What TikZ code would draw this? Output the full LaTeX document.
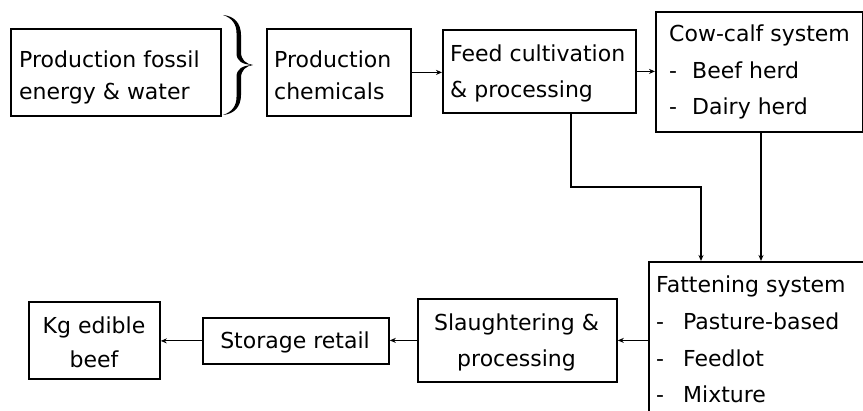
\documentclass[tikz,border=0pt]{standalone}
\usepackage{fontspec}
\setmainfont{DejaVu Sans}
\usetikzlibrary{arrows.meta}
\tikzset{
  box/.style={draw, line width=1.8pt, inner sep=0pt, anchor=north west},
  txt/.style={inner sep=0pt, anchor=base west, align=left},
  ctxt/.style={inner sep=0pt, anchor=base, align=center},
  conn/.style={line width=1.2pt, -{Stealth[length=6pt,width=5pt]}},
}
\newcommand{\itm}[2]{\makebox[#1][l]{-}#2}
\begin{document}
\begin{tikzpicture}[x=1pt,y=-1pt]
\useasboundingbox (0,0) rectangle (863,411);
% boxes
\node[box, minimum width=210pt, minimum height=87pt] (b1) at (10,28) {};
\node[box, minimum width=144pt, minimum height=87pt] (b2) at (266,28) {};
\node[box, minimum width=193pt, minimum height=83pt] (b3) at (442,29) {};
\node[box, minimum width=207pt, minimum height=120pt] (b4) at (655,11) {};
\begin{scope}
  \clip (0,0) rectangle (863,411);
  \node[box, minimum width=240pt, minimum height=170pt] (fat) at (648,261) {};
\end{scope}
\node[box, minimum width=199pt, minimum height=83pt] (sl) at (417,298) {};
\node[box, minimum width=186pt, minimum height=46pt] (st) at (202,317) {};
\node[box, minimum width=131pt, minimum height=77pt] (kg) at (28,301) {};
% texts (anchored at the baseline of the last line)
\node[txt, font=\fontsize{22}{32}\selectfont] (t1) at (19,100) {Production fossil\\energy \& water};
\node[txt, font=\fontsize{22}{32}\selectfont] (t2) at (274,100) {Production\\chemicals};
\node[txt, font=\fontsize{22}{36}\selectfont] (t3) at (450,98) {Feed cultivation\\\& processing};
\node[txt, font=\fontsize{22}{36.5}\selectfont] (t4) at (669,115) {Cow-calf system\\\itm{23pt}{Beef herd}\\\itm{23pt}{Dairy herd}};
\node[txt, font=\fontsize{22}{36.7}\selectfont] (t5) at (656,403) {Fattening system\\\itm{27pt}{Pasture-based}\\\itm{27pt}{Feedlot}\\\itm{27pt}{Mixture}};
\node[ctxt, font=\fontsize{22}{36}\selectfont] (t6) at (516.5,367) {Slaughtering \&\\processing};
\node[ctxt, font=\fontsize{22}{34}\selectfont] (t7) at (295,349) {Storage retail};
\node[ctxt, font=\fontsize{22}{34}\selectfont] (t8) at (94,368) {Kg edible\\beef};
% brace
\fill (223,15) .. controls (234,16) and (241,23) .. (241,35) -- (241,52)
  .. controls (241,60) and (246,64) .. (253,65)
  .. controls (246,66) and (241,70) .. (241,78) -- (241,95)
  .. controls (241,107) and (234,114) .. (223,115)
  .. controls (232,112) and (236.5,106) .. (236.5,97) -- (236.5,77)
  .. controls (236.5,69) and (242,65.5) .. (253,65)
  .. controls (242,64.5) and (236.5,61) .. (236.5,53) -- (236.5,33)
  .. controls (236.5,24) and (232,18) .. (223,15) -- cycle;
% connectors
\coordinate (k1) at (571,187);
\coordinate (k2) at (701,187);
\coordinate (k3) at (761,0);
\draw[conn] (b2.east) -- (b2.east -| b3.west);
\draw[conn] (b3.east) -- (b3.east -| b4.west);
\draw[conn] (b3.south -| k1) -- (k1) -- (k2) -- (k2 |- fat.north);
\draw[conn] (b4.south -| k3) -- (k3 |- fat.north);
\draw[conn] (sl.east -| fat.west) -- (sl.east);
\draw[conn] (sl.west) -- (sl.west -| st.east);
\draw[conn] (st.west) -- (st.west -| kg.east);
\end{tikzpicture}
\end{document}
